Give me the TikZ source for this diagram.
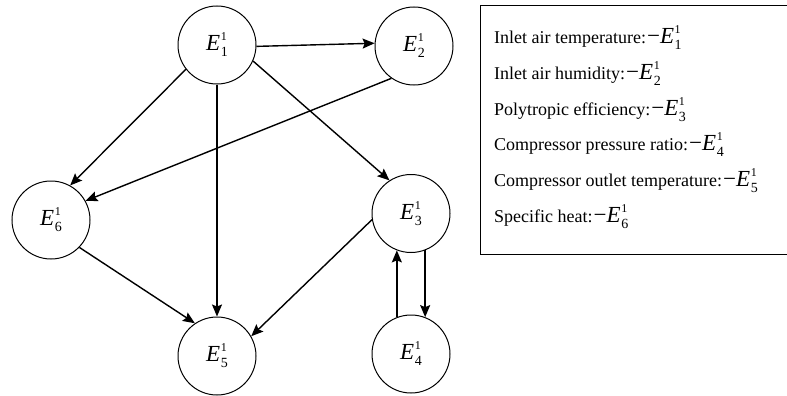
\documentclass[tikz,border=0pt]{standalone}
\usepackage{fontspec}
\setmainfont{Liberation Serif}
\usetikzlibrary{arrows.meta}

% E with superscript 1 and a numeric subscript, set in text fonts
\newcommand{\Evar}[1]{%
  {\fontsize{23}{23}\selectfont\itshape E}\kern0.6pt%
  \rlap{\raisebox{10pt}{\fontsize{12}{12}\selectfont 1}}%
  \raisebox{-6pt}{\fontsize{14}{14}\selectfont #1}}
\newcommand{\Emin}{{\fontsize{23}{23}\selectfont\kern1pt −}}

\begin{document}
\begin{tikzpicture}[x=1pt,y=-1pt,
  var/.style={circle,draw,line width=1pt,minimum size=78pt,inner sep=0pt},
  link/.style={line width=1.4pt,-{Stealth[length=12pt,width=10pt,inset=2pt]}},
  legendline/.style={anchor=base west,inner sep=0pt,font=\fontsize{18}{18}\selectfont}]
  \useasboundingbox (0,0) rectangle (787,396);

  % variables
  \node[var] (E1) at (217,45)    {\Evar{1}};
  \node[var] (E2) at (414,46)    {\Evar{2}};
  \node[var] (E3) at (411,213.5) {\Evar{3}};
  \node[var] (E4) at (411,354)   {\Evar{4}};
  \node[var] (E5) at (217,356)   {\Evar{5}};
  \node[var] (E6) at (51,220)    {\Evar{6}};

  % dependencies
  \draw[link] (E1.358) -- (E2.176);
  \draw[link] (E1.218) -- (E6.61);
  \draw[link] (E2.235) -- (E6.29);
  \draw[link] (E1.south) -- (E5.north);
  \draw[link] (E1.336) -- (E3.123);
  \draw[link] (E6.316) -- (E5.124);
  \draw[link] (E3.189) -- (E5.30);
  \draw[link] (E3.291) -- (E4.69);
  \draw[link] (E4.111) -- (E3.249);

  % legend
  \draw[line width=1pt] (480,6) rectangle (790,254);
  \node[legendline] (L1) at (494,44)    {Inlet air temperature:\Emin\Evar{1}};
  \node[legendline] (L2) at (494,79.6)  {Inlet air humidity:\Emin\Evar{2}};
  \node[legendline] (L3) at (494,115.2) {Polytropic efficiency:\Emin\Evar{3}};
  \node[legendline] (L4) at (494,150.8) {Compressor pressure ratio:\Emin\Evar{4}};
  \node[legendline] (L5) at (494,186.4) {Compressor outlet temperature:\Emin\Evar{5}};
  \node[legendline] (L6) at (494,222)   {Specific heat:\Emin\Evar{6}};
\end{tikzpicture}
\end{document}
